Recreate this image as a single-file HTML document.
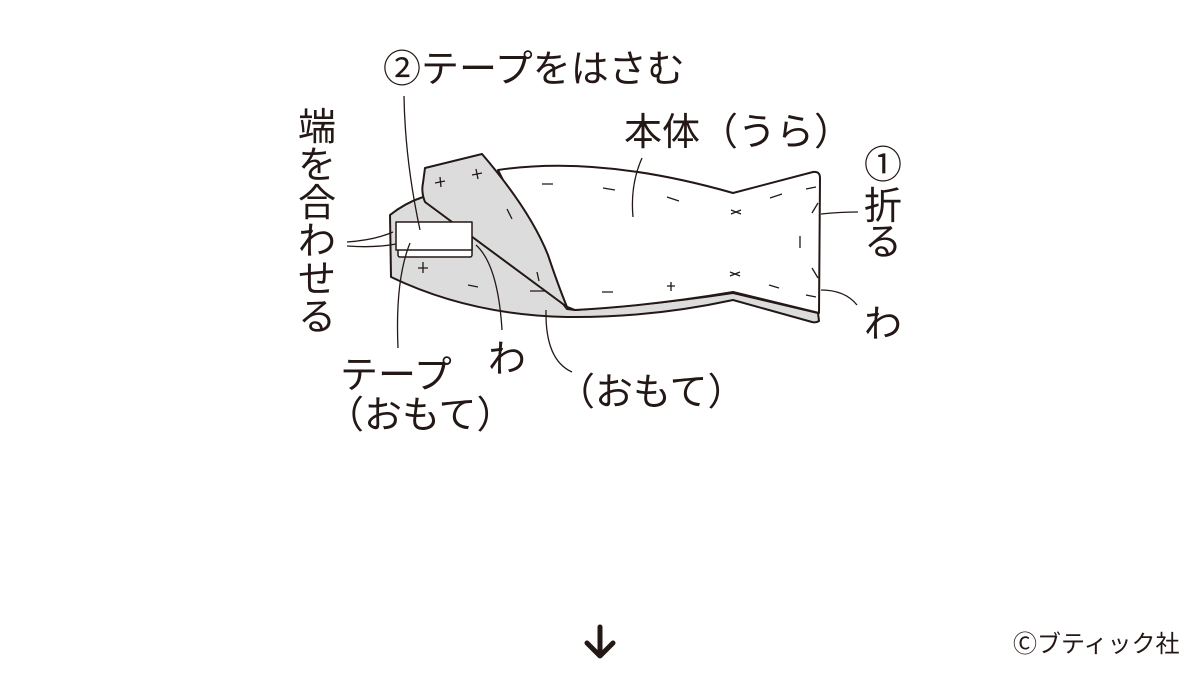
<!DOCTYPE html>
<html><head><meta charset="utf-8"><style>
html,body{margin:0;padding:0;background:#fff;}
svg{display:block}
text{font-family:"Liberation Sans","Noto Sans CJK JP",sans-serif;fill:#231815;}
</style></head><body>
<svg width="1200" height="675" viewBox="0 0 1200 675" xmlns="http://www.w3.org/2000/svg">
<g stroke="#231815" stroke-width="2" stroke-linejoin="round">
<path d="M390,215 Q405,203 423,197 L440,205 L560,300 L567,309 L575,310 Q660,304 733,293 L818,313 L819,321 Q816,323 812,322 L733,300 Q650,318 567,317 Q470,315 391,277 Z" fill="#dcdcdc"/>
<path d="M498,170 Q600,155 733,193 L813,172 Q820,171 820,178 L819,313 L733,292 Q650,306 575,310 L565,306 Z" fill="#fff"/>
<path d="M425,168 L482,154 Q530,210 548,255 Q558,285 567,307 L425,202 Q421,192 423,183 Z" fill="#dcdcdc"/>
<rect x="398" y="236" width="74" height="21" rx="2" fill="#fff" stroke-width="1.5"/>
<rect x="396" y="222" width="76" height="28" fill="#fff" stroke-width="1.5"/>
</g>
<g stroke="#231815" stroke-width="1.3" fill="none">
<path d="M435,183 l10,-2 M440,177 l1,10 M472,175 l10,-2 M476,169 l2,10 M507,209 l5,10 M418,268 l10,0 M423,262 l0,11 M468,285 l10,2 M530,291 l16,0 M537,272 l2,9 M542,184 l11,0 M603,188 l12,2 M667,197 l12,4 M731,210 l10,4 M731,214 l10,-4 M770,198 l12,-4 M806,189 l10,-2 M800,236 l0,12 M730,272 l10,4 M730,276 l10,-4 M769,285 l10,3 M806,295 l10,2 M602,292 l11,0 M667,286 l8,0 M671,282 l0,9 M812,213 l6,-10 M812,268 l6,10"/>
<path d="M404,96 Q405,160 420,230"/>
<path d="M347,242 Q375,240 393,232 M347,246 Q375,248 396,244"/>
<path d="M410,243 Q395,280 398,348"/>
<path d="M476,245 Q498,265 502,330"/>
<path d="M546,310 Q545,360 572,372"/>
<path d="M642,158 Q630,185 633,217"/>
<path d="M821,214 Q840,212 858,212"/>
<path d="M821,290 Q845,290 857,305"/>
</g>
<g font-size="38">
<text x="383" y="82">②テープをはさむ</text>
<text x="624" y="145">本体（うら）</text>
<text x="340" y="388">テープ</text>
<text x="326" y="428">（おもて）</text>
<text x="488" y="372">わ</text>
<text x="557" y="405">（おもて）</text>
<text x="864" y="337">わ</text>
<text x="864" y="178">①</text>
<text x="864" y="219">折</text>
<text x="864" y="255">る</text>
<text x="298" y="140">端</text>
<text x="298" y="178">を</text>
<text x="298" y="216">合</text>
<text x="298" y="254">わ</text>
<text x="298" y="292">せ</text>
<text x="298" y="330">る</text>
</g>
<g stroke="#231815" stroke-width="5" fill="none" stroke-linecap="round" stroke-linejoin="round">
<path d="M600,627 L600,655 M587,643 L600,656 L613,643"/>
</g>
<text x="1013" y="652" font-size="24">Ⓒブティック社</text>
</svg>
</body></html>
